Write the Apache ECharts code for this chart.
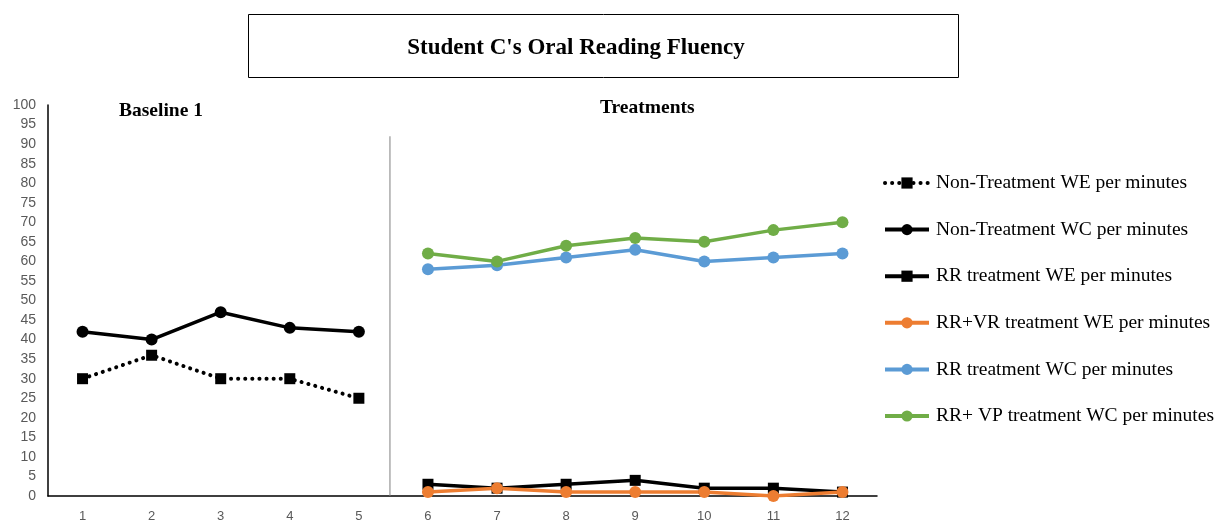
<!DOCTYPE html>
<html lang="en">
<head>
  <meta charset="UTF-8">
  <title>Student C's Oral Reading Fluency</title>
  <script src="https://cdn.jsdelivr.net/npm/echarts@6/dist/echarts.min.js"></script>
  <style>
    html, body { margin: 0; padding: 0; background: #fff; }
    #chart { width: 1220px; height: 523px; }
  </style>
</head>
<body>
  <div id="chart"></div>
  <script>
    // sessions
    const sessions = ['1', '2', '3', '4', '5', '6', '7', '8', '9', '10', '11', '12']
    // baseline (sessions 1-5)
    const ntWE = [30, 36, 30, 30, 25, null, null, null, null, null, null, null]
    const ntWC = [42, 40, 47, 43, 42, null, null, null, null, null, null, null]
    // treatments (sessions 6-12)
    const rrWE = [null, null, null, null, null, 3, 2, 3, 4, 2, 2, 1]
    const rrvrWE = [null, null, null, null, null, 1, 2, 1, 1, 1, 0, 1]
    const rrWC = [null, null, null, null, null, 58, 59, 61, 63, 60, 61, 62]
    const rrvpWC = [null, null, null, null, null, 62, 60, 64, 66, 65, 68, 70]
    // phase change line, between session 5 and 6
    const phaseLine = [[5.45, 92], [5.45, 0]]

    const serif = '"Liberation Serif", "Times New Roman", serif'
    const chart = echarts.init(document.getElementById('chart'))

    function lineSeries(name, data, color, symbol, dotted) {
      return {
        name: name,
        type: 'line',
        data: data,
        symbol: symbol,
        symbolSize: symbol === 'rect' ? 11 : 12,
        connectNulls: false,
        itemStyle: { color: color },
        lineStyle: dotted
          ? { color: color, width: 4, type: [0.1, 7], cap: 'round' }
          : { color: color, width: 3.5 },
        z: 3
      }
    }

    chart.setOption({
      animation: false,
      title: {
        text: "Student C's Oral Reading Fluency",
        left: 571,
        top: 32,
        textAlign: 'center',
        textStyle: { fontFamily: serif, fontSize: 23, fontWeight: 'bold', color: '#000' }
      },
      graphic: [
        {
          type: 'rect',
          shape: { x: 248.5, y: 14.5, width: 710, height: 63 },
          style: { fill: 'none', stroke: '#000', lineWidth: 1 }
        },
        {
          type: 'text', left: 119, top: 101,
          style: { text: 'Baseline 1', font: 'bold 19.5px ' + serif, fill: '#000' }
        },
        {
          type: 'text', left: 600, top: 98,
          style: { text: 'Treatments', font: 'bold 19.5px ' + serif, fill: '#000' }
        }
      ],
      legend: {
        orient: 'vertical',
        left: 878,
        top: 168,
        itemWidth: 44,
        itemHeight: 14,
        itemGap: 26.6,
        lineStyle: { width: 4 },
        data: [
          'Non-Treatment WE per minutes',
          'Non-Treatment WC per minutes',
          'RR treatment WE per minutes',
          'RR+VR treatment WE per minutes',
          'RR treatment WC per minutes',
          'RR+ VP treatment WC per minutes'
        ],
        textStyle: { fontFamily: serif, fontSize: 19.5, lineHeight: 20, color: '#000', padding: [0, 0, 0, 2] }
      },
      grid: { left: 48, right: 343, top: 105, bottom: 27 },
      xAxis: [
        {
          type: 'category',
          data: sessions,
          boundaryGap: true,
          axisLine: { lineStyle: { color: '#000', width: 1.5 } },
          axisTick: { show: false },
          axisLabel: { color: '#595959', fontSize: 13, margin: 14 }
        },
        { type: 'value', min: 0.5, max: 12.5, show: false }
      ],
      yAxis: {
        type: 'value',
        min: 0,
        max: 100,
        interval: 5,
        axisLine: { show: true, lineStyle: { color: '#000', width: 1.5 } },
        axisTick: { show: false },
        splitLine: { show: false },
        axisLabel: { color: '#595959', fontSize: 14, margin: 12 }
      },
      series: [
        lineSeries('Non-Treatment WE per minutes', ntWE, '#000', 'rect', true),
        lineSeries('Non-Treatment WC per minutes', ntWC, '#000', 'circle', false),
        lineSeries('RR treatment WE per minutes', rrWE, '#000', 'rect', false),
        lineSeries('RR+VR treatment WE per minutes', rrvrWE, '#ED7D31', 'circle', false),
        lineSeries('RR treatment WC per minutes', rrWC, '#5B9BD5', 'circle', false),
        lineSeries('RR+ VP treatment WC per minutes', rrvpWC, '#70AD47', 'circle', false),
        {
          name: 'phase',
          type: 'line',
          xAxisIndex: 1,
          data: phaseLine,
          symbol: 'none',
          silent: true,
          lineStyle: { color: '#7f7f7f', width: 1 },
          z: 1
        }
      ]
    })
  </script>
</body>
</html>
